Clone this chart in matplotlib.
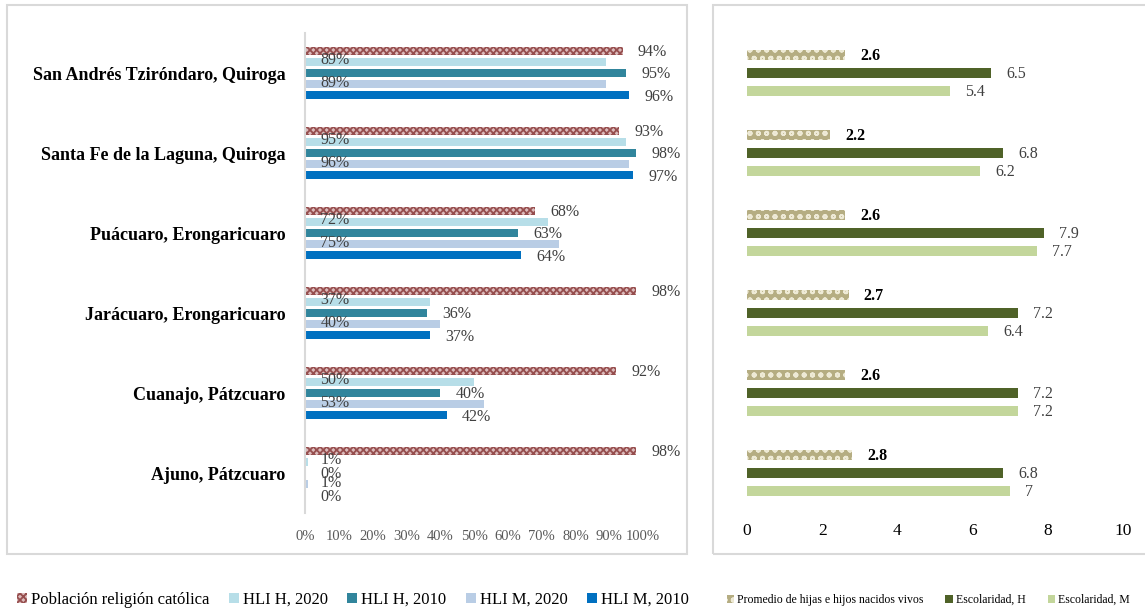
import matplotlib
matplotlib.use("Agg")
import matplotlib.pyplot as plt
from matplotlib.patches import Rectangle
import numpy as np

plt.rcParams['font.family'] = ['Liberation Serif', 'DejaVu Serif']
plt.rcParams['hatch.linewidth'] = 1.3

# data
localidades = ["San Andrés Tziróndaro, Quiroga", "Santa Fe de la Laguna, Quiroga",
               "Puácuaro, Erongaricuaro", "Jarácuaro, Erongaricuaro",
               "Cuanajo, Pátzcuaro", "Ajuno, Pátzcuaro"]
religion = [94, 93, 68, 98, 92, 98]
hli_h_2020 = [89, 95, 72, 37, 50, 1]
hli_h_2010 = [95, 98, 63, 36, 40, 0]
hli_m_2020 = [89, 96, 75, 40, 53, 1]
hli_m_2010 = [96, 97, 64, 37, 42, 0]

promedio_hijos = [2.6, 2.2, 2.6, 2.7, 2.6, 2.8]
escolaridad_h = [6.5, 6.8, 7.9, 7.2, 7.2, 6.8]
escolaridad_m = [5.4, 6.2, 7.7, 6.4, 7.2, 7]

W, H = 1145, 611
fig = plt.figure(figsize=(W / 100, H / 100), dpi=100)

def fx(px):
    return px / W

def fy(py):
    return 1 - py / H

# panel frames
for x0, x1 in [(7, 687), (713, 1160)]:
    fig.add_artist(Rectangle((fx(x0), fy(554)), fx(x1 - x0), 549 / H,
                             transform=fig.transFigure, fill=False,
                             edgecolor='#d9d9d9', linewidth=1.5))

y = np.arange(len(localidades))
val_color = '#404040'

# ---------- left panel ----------
axl = fig.add_axes([fx(305), fy(513), fx(338), 480 / H])
step, bh = 0.14, 0.10
series_l = [
    ("Población religión católica", religion, dict(facecolor='#dcbcbc', edgecolor='#964e4e', hatch='xxxxx')),
    ("HLI H, 2020", hli_h_2020, dict(color='#b7dee8')),
    ("HLI H, 2010", hli_h_2010, dict(color='#31859c')),
    ("HLI M, 2020", hli_m_2020, dict(color='#b9cde5')),
    ("HLI M, 2010", hli_m_2010, dict(color='#0070c0')),
]
handles_l = []
for i, (name, vals, style) in enumerate(series_l):
    yy = y + (i - 2) * step
    bars = axl.barh(yy, vals, height=bh, linewidth=0, label=name, **style)
    handles_l.append(bars)
    for yv, v in zip(yy, vals):
        if name.endswith("2020"):
            axl.annotate(f"{v}%", xy=(0, yv), xytext=(11, 1), textcoords='offset points',
                         ha='left', va='center', fontsize=11.5, color=val_color)
        else:
            axl.annotate(f"{v}%", xy=(v, yv), xytext=(11, -1), textcoords='offset points',
                         ha='left', va='center', fontsize=11.5, color=val_color)

axl.set_xlim(0, 100)
axl.set_ylim(5.5, -0.5)
axl.set_xticks(np.arange(0, 101, 10))
axl.set_xticklabels([f"{t}%" for t in range(0, 101, 10)], fontsize=10.5, color='#595959')
axl.set_yticks(y)
axl.set_yticklabels(localidades, fontsize=13, fontweight='bold')
axl.tick_params(axis='x', length=0, pad=12)
axl.tick_params(axis='y', length=0, pad=14)
for s in ['top', 'right', 'bottom']:
    axl.spines[s].set_visible(False)
axl.spines['left'].set_color('#d9d9d9')
axl.spines['left'].set_linewidth(1.5)

# ---------- right panel ----------
axr = fig.add_axes([fx(747), fy(513), fx(376), 480 / H])
step_r, bh_r = 0.225, 0.13
series_r = [
    ("Promedio de hijas e hijos nacidos vivos", promedio_hijos,
     dict(facecolor='#b5ad82', edgecolor='#eeead6', hatch='oo'), True),
    ("Escolaridad, H", escolaridad_h, dict(color='#4f6228'), False),
    ("Escolaridad, M", escolaridad_m, dict(color='#c3d69b'), False),
]
handles_r = []
for i, (name, vals, style, bold) in enumerate(series_r):
    yy = y + (i - 1) * step_r
    bars = axr.barh(yy, vals, height=bh_r, linewidth=0, label=name, **style)
    handles_r.append(bars)
    for yv, v in zip(yy, vals):
        axr.annotate(f"{v:g}", xy=(v, yv), xytext=(11, -1), textcoords='offset points',
                     ha='left', va='center', fontsize=11.5,
                     fontweight='bold' if bold else 'normal',
                     color='black' if bold else val_color)

axr.set_xlim(0, 10)
axr.set_ylim(5.5, -0.5)
axr.set_xticks(np.arange(0, 11, 2))
axr.tick_params(axis='x', length=0, pad=7, labelsize=12.5)
axr.set_yticks([])
for s in axr.spines.values():
    s.set_visible(False)

# legends
fig.legend(handles=handles_l, loc='center left', bbox_to_anchor=(fx(2), fy(600)),
           ncol=5, frameon=False, fontsize=12, handlelength=0.6, handleheight=0.6,
           handletextpad=0.25, columnspacing=1.15)
fig.legend(handles=handles_r, loc='center left', bbox_to_anchor=(fx(716), fy(600)),
           ncol=3, frameon=False, fontsize=8.5, handlelength=0.6, handleheight=0.6,
           handletextpad=0.25, columnspacing=1.9)

fig.savefig("out.png", dpi=100)
